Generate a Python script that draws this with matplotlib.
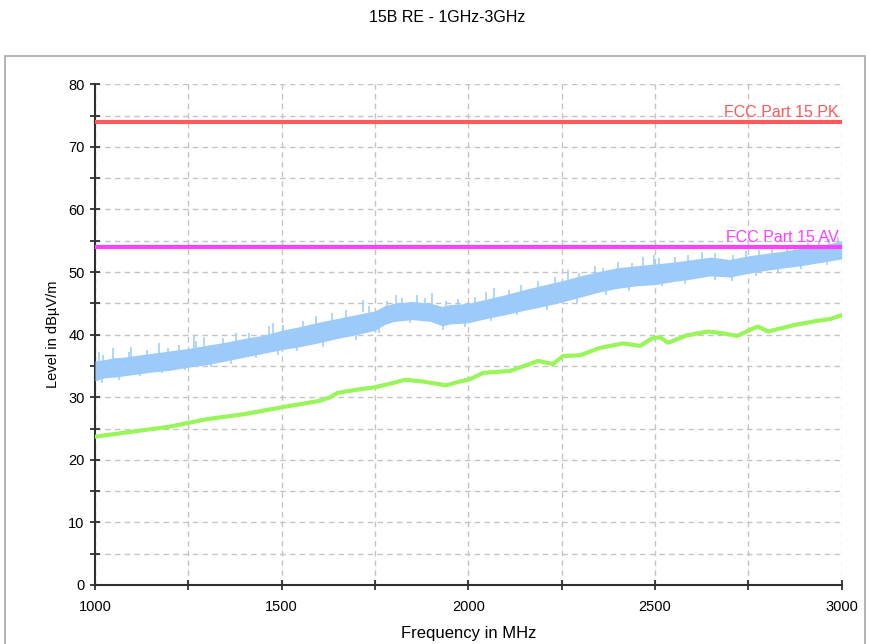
import matplotlib
matplotlib.use("Agg")
import matplotlib.pyplot as plt
from matplotlib.patches import Rectangle
from matplotlib.ticker import MultipleLocator

plt.rcParams['font.family'] = ['Liberation Sans', 'DejaVu Sans']

# ---- data ----
title = "15B RE - 1GHz-3GHz"
limit_pk = 74.0
limit_av = 54.0

blue_freq = [1000, 1025, 1050, 1075, 1100, 1150, 1200, 1250, 1300, 1350, 1400, 1450, 1500,
             1550, 1600, 1650, 1700, 1750, 1775, 1800, 1850, 1900, 1930, 1950, 2000, 2050,
             2100, 2150, 2200, 2250, 2300, 2350, 2400, 2450, 2500, 2550, 2600, 2650, 2700,
             2750, 2800, 2850, 2900, 2950, 3000]
blue_low = [32.6, 33.1, 33.2, 33.4, 33.6, 34.0, 34.3, 34.8, 35.2, 35.8, 36.4, 37.0, 37.6,
            38.1, 38.7, 39.4, 40.0, 40.7, 41.6, 42.1, 42.4, 42.1, 41.4, 41.7, 41.9, 42.6,
            43.2, 43.9, 44.5, 45.2, 46.0, 46.8, 47.4, 47.8, 48.0, 48.5, 48.9, 49.4, 49.2,
            49.8, 50.3, 50.7, 51.1, 51.6, 52.1]
blue_high = [35.8, 36.0, 36.3, 36.4, 36.6, 37.0, 37.4, 37.8, 38.3, 38.8, 39.4, 39.9, 40.7,
             41.3, 42.0, 42.6, 43.2, 43.8, 44.6, 45.0, 45.3, 45.0, 44.5, 44.8, 45.0, 45.7,
             46.4, 47.2, 47.9, 48.6, 49.4, 50.1, 50.7, 51.0, 51.3, 51.6, 52.0, 52.4, 52.0,
             52.6, 53.0, 53.4, 53.9, 54.3, 55.0]
spike_freq = [1012, 1022, 1048, 1090, 1097, 1138, 1172, 1195, 1226, 1264, 1271, 1293, 1342,
              1378, 1412, 1466, 1478, 1503, 1558, 1592, 1636, 1671, 1719, 1733, 1781, 1806,
              1823, 1862, 1884, 1903, 1941, 1972, 2018, 2047, 2069, 2108, 2141, 2186, 2232,
              2268, 2296, 2338, 2361, 2402, 2437, 2468, 2497, 2511, 2553, 2588, 2627, 2661,
              2709, 2744, 2779, 2812, 2853, 2874, 2911, 2938, 2967, 2990]
spike_top = [37.3, 36.8, 37.9, 37.2, 38.0, 37.6, 38.6, 37.9, 38.3, 39.9, 39.0, 39.6, 39.4,
             40.3, 40.2, 41.4, 41.9, 41.6, 42.2, 43.0, 43.4, 44.0, 45.6, 44.6, 45.4, 46.3,
             45.9, 46.4, 45.8, 46.6, 45.4, 45.7, 46.0, 46.8, 47.4, 47.2, 48.0, 48.6, 49.2,
             50.4, 49.9, 51.0, 50.7, 51.6, 51.4, 52.4, 52.8, 52.2, 52.4, 52.8, 53.2, 53.0,
             52.8, 53.4, 53.6, 53.9, 54.2, 54.0, 54.6, 54.9, 55.3, 55.6]
dip_freq = [1018, 1065, 1120, 1180, 1240, 1310, 1365, 1430, 1490, 1540, 1610, 1700, 1760,
            1845, 1932, 1990, 2060, 2130, 2210, 2290, 2370, 2430, 2520, 2580, 2660, 2705,
            2770, 2830, 2890, 2960]
dip_bottom = [32.3, 32.8, 33.4, 33.8, 34.3, 34.8, 35.3, 36.3, 36.8, 37.4, 38.1, 39.2, 40.2,
              41.9, 40.8, 41.2, 42.2, 43.1, 43.9, 45.0, 46.3, 47.0, 47.7, 48.1, 48.7, 48.5,
              49.3, 49.8, 50.5, 51.2]

green_freq = [1000, 1100, 1200, 1250, 1300, 1400, 1500, 1600, 1630, 1650, 1700, 1750, 1800,
              1830, 1880, 1940, 1970, 2005, 2040, 2112, 2187, 2227, 2254, 2299, 2353, 2415,
              2460, 2492, 2513, 2535, 2586, 2642, 2683, 2720, 2763, 2776, 2803, 2870, 2934,
              2969, 3000]
green_level = [23.7, 24.5, 25.3, 25.9, 26.5, 27.3, 28.4, 29.4, 30.0, 30.7, 31.2, 31.6, 32.3,
               32.8, 32.5, 31.9, 32.4, 32.9, 33.9, 34.2, 35.8, 35.3, 36.6, 36.7, 37.9, 38.6,
               38.2, 39.4, 39.6, 38.7, 39.9, 40.5, 40.2, 39.8, 41.0, 41.3, 40.5, 41.5, 42.2,
               42.5, 43.1]

# ---- figure ----
W, H = 869, 644
fig = plt.figure(figsize=(W / 100, H / 100), dpi=100)

# outer frame
fig.patches.append(Rectangle((5 / W, -0.02), (865 - 5) / W, (H - 56) / H + 0.02,
                             transform=fig.transFigure, fill=False,
                             edgecolor='#A8A8A8', linewidth=1.2))

ax = fig.add_axes([95 / W, (H - 585) / H, (841.7 - 95) / W, (585 - 84.3) / H])
ax.set_xlim(1000, 3000)
ax.set_ylim(0, 80)

grid_kw = dict(color='#C4C4C4', linestyle=(0, (4, 3)), linewidth=1.0)
ax.xaxis.set_major_locator(MultipleLocator(500))
ax.xaxis.set_minor_locator(MultipleLocator(250))
ax.yaxis.set_major_locator(MultipleLocator(10))
ax.yaxis.set_minor_locator(MultipleLocator(5))
ax.grid(True, which='both', **grid_kw)
ax.set_axisbelow(True)

for s in ['top', 'right']:
    ax.spines[s].set_visible(False)
for s in ['left', 'bottom']:
    ax.spines[s].set_color('#303030')
    ax.spines[s].set_linewidth(1.5)

ax.tick_params(which='both', direction='inout', length=7, width=1.3, color='#303030',
               labelsize=10.5)
ax.tick_params(axis='x', which='both', pad=7)
ax.tick_params(axis='y', which='both', pad=4)
ax.tick_params(which='minor', labelleft=False, labelbottom=False)

# traces
blue = '#9CCBFA'
ax.fill_between(blue_freq, blue_low, blue_high, color=blue, linewidth=0, zorder=3)
ax.vlines(spike_freq, [t - 2.0 for t in spike_top], spike_top, color=blue,
          linewidth=1.1, zorder=3)
ax.vlines(dip_freq, dip_bottom, [b + 1.5 for b in dip_bottom], color=blue,
          linewidth=1.1, zorder=3)
ax.plot(green_freq, green_level, color='#98F55A', linewidth=3.0, zorder=4)

ax.axhline(limit_pk, color='#FF5A5A', linewidth=3.0, zorder=5)
ax.axhline(limit_av, color='#FF40FF', linewidth=3.0, zorder=5)
ax.text(2992, limit_pk + 0.3, "FCC Part 15 PK", color='#FF5A5A', fontsize=11.5,
        ha='right', va='bottom', zorder=6)
ax.text(2992, limit_av + 0.3, "FCC Part 15 AV", color='#FF40FF', fontsize=11.5,
        ha='right', va='bottom', zorder=6)

ax.set_xlabel("Frequency in MHz", fontsize=12, labelpad=9)
ax.set_ylabel("Level in dBµV/m", fontsize=10.5, labelpad=6)
fig.text(447 / W, 1 - 18 / H, title, fontsize=11.5, ha='center', va='center')

fig.savefig("out.png", dpi=100)
